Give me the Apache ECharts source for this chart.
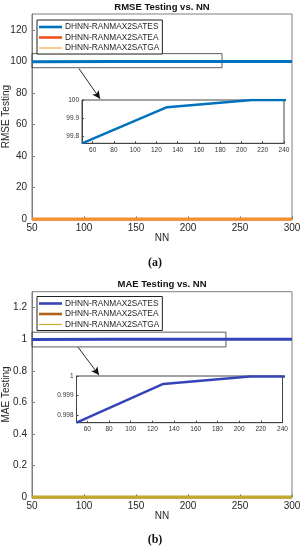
<!DOCTYPE html>
<html><head><meta charset="utf-8">
<script src="https://cdn.jsdelivr.net/npm/echarts@6/dist/echarts.min.js"></script>
<style>html,body{margin:0;padding:0;background:#fff}#c{width:303px;height:550px}</style>
</head><body><div id="c"></div>
<script>
const NN = [50, 130, 210, 300];
const rmseES = [99.76, 99.96, 100.0, 100.0];
const rmseEA = [0, 0, 0, 0];
const rmseGA = [0, 0, 0, 0];
const maeES = [0.9976, 0.99959, 0.99998, 0.99998];
const maeEA = [0, 0, 0, 0];
const maeGA = [0, 0, 0, 0];
const names = ['DHNN-RANMAX2SATES', 'DHNN-RANMAX2SATEA', 'DHNN-RANMAX2SATGA'];
const rmseYTicks = [0, 20, 40, 60, 80, 100, 120];
const maeYTicks = [0, 0.2, 0.4, 0.6, 0.8, 1, 1.2];
const insetXTicks = [60, 80, 100, 120, 140, 160, 180, 200, 220, 240];
const rmseInsetYTicks = [99.8, 99.9, 100];
const maeInsetYTicks = [0.998, 0.999, 1];
// zoom box and arrow annotations (data coords)
const rmseBox = [[27, 104.9], [232.7, 96]];
const rmseArrow = [[95.2, 95.4], [115.4, 76.3]];
const maeBox = [[30.8, 1.044], [236.5, 0.951]];
const maeArrow = [[94.2, 0.9495], [114.4, 0.7726]];

const pairs = (a, b) => a.map((v, i) => [v, b[i]]);
const font = 'Liberation Sans, Arial, sans-serif';
const axCol = '#7f7f7f';
const txtCol = '#262626';

function mainX(gi) {
  return {gridIndex: gi, type: 'value', min: 50, max: 300, interval: 50,
    name: 'NN', nameLocation: 'middle', nameGap: 14, nameMoveOverlap: false,
    nameTextStyle: {fontFamily: font, fontSize: 10, color: txtCol},
    axisLine: {lineStyle: {color: axCol}}, axisTick: {inside: true, length: 3, lineStyle: {color: axCol}},
    axisLabel: {fontFamily: font, fontSize: 10, color: txtCol, margin: 4},
    splitLine: {show: false}};
}
function mainY(gi, max, ticks, name) {
  return {gridIndex: gi, type: 'value', min: 0, max: max,
    name: name, nameLocation: 'middle', nameGap: 21, nameMoveOverlap: false,
    nameTextStyle: {fontFamily: font, fontSize: 10, color: txtCol},
    axisLine: {show: true, lineStyle: {color: axCol}},
    axisTick: {show: true, inside: true, length: 3, customValues: ticks, lineStyle: {color: axCol}},
    axisLabel: {fontFamily: font, fontSize: 10, color: txtCol, margin: 5, customValues: ticks},
    splitLine: {show: false}};
}
function insetX(gi) {
  return {gridIndex: gi, type: 'value', min: 50, max: 240,
    axisLine: {lineStyle: {color: '#444'}},
    axisTick: {inside: true, length: 2, customValues: insetXTicks, lineStyle: {color: '#444'}},
    axisLabel: {fontFamily: font, fontSize: 6.5, color: '#333', margin: 3, customValues: insetXTicks},
    splitLine: {show: false}};
}
function insetY(gi, min, max, ticks) {
  return {gridIndex: gi, type: 'value', min: min, max: max,
    axisLine: {show: true, lineStyle: {color: '#444'}},
    axisTick: {show: true, inside: true, length: 2, customValues: ticks, lineStyle: {color: '#444'}},
    axisLabel: {fontFamily: font, fontSize: 6.5, color: '#333', margin: 3, customValues: ticks},
    splitLine: {show: false}};
}
function legend(top, cols) {
  return {orient: 'vertical', left: 37, top: top, padding: [3, 3, 2, 2], itemGap: 2.5,
    itemWidth: 23, itemHeight: 8, borderColor: '#222', borderWidth: 1, backgroundColor: '#fff',
    textStyle: {fontFamily: font, fontSize: 8.3, color: txtCol, padding: [0, 0, 0, -2]},
    data: [
      {name: names[0], icon: 'path://M0,0L23,0L23,2.6L0,2.6Z', itemStyle: {color: cols[0]}},
      {name: names[1], icon: 'path://M0,0L23,0L23,2.6L0,2.6Z', itemStyle: {color: cols[1]}},
      {name: names[2], icon: 'path://M0,0L23,0L23,1.2L0,1.2Z', itemStyle: {color: cols[2]}}
    ], selectedMode: false};
}
function annot(box, arrow) {
  return {
    markArea: {silent: true, itemStyle: {color: 'rgba(0,0,0,0)', borderColor: '#333', borderWidth: 0.8},
      data: [[{coord: box[0]}, {coord: box[1]}]]},
    markLine: {silent: true, symbol: ['none', 'arrow'], symbolSize: [6, 8], label: {show: false},
      lineStyle: {color: '#111', width: 0.9, type: 'solid'},
      data: [[{coord: arrow[0]}, {coord: arrow[1]}]]}
  };
}
const rc = ['#0072BD', '#F2501E', '#F7A83C'];
const mc = ['#3545B8', '#B0621A', '#C9B02E'];
const g = (o) => Object.assign({show: true, borderWidth: 1, backgroundColor: '#fff', containLabel: false, outerBoundsMode: 'none'}, o);
const tStyle = {fontFamily: font, fontSize: 9.5, fontWeight: 'bold', color: '#111'};
const sStyle = {fontFamily: 'Liberation Serif, serif', fontSize: 12, fontWeight: 'bold', color: '#111'};

const option = {
  animation: false,
  backgroundColor: '#fff',
  title: [
    {text: 'RMSE Testing vs. NN', left: 162, textAlign: 'center', top: 2.5, padding: 0, textStyle: tStyle},
    {text: 'MAE Testing vs. NN', left: 162, textAlign: 'center', top: 279.5, padding: 0, textStyle: tStyle},
    {text: '(a)', left: 155, textAlign: 'center', top: 257, padding: 0, textStyle: sStyle},
    {text: '(b)', left: 155, textAlign: 'center', top: 533.5, padding: 0, textStyle: sStyle}
  ],
  legend: [legend(20, rc), legend(296.5, mc)],
  grid: [
    g({left: 32, right: 11, top: 14, height: 205.3, borderColor: axCol}),
    g({left: 32, right: 11, top: 291.7, height: 205.6, borderColor: axCol}),
    g({left: 82, width: 202, top: 100, height: 43.3, borderColor: '#444'}),
    g({left: 76.5, width: 206, top: 376, height: 46.7, borderColor: '#444'})
  ],
  xAxis: [mainX(0), mainX(1), insetX(2), insetX(3)],
  yAxis: [mainY(0, 130, rmseYTicks, 'RMSE Testing'), mainY(1, 1.3, maeYTicks, 'MAE Testing'),
          insetY(2, 99.76, 100, rmseInsetYTicks), insetY(3, 0.9976, 1, maeInsetYTicks)],
  series: [
    Object.assign({name: names[0], type: 'line', xAxisIndex: 0, yAxisIndex: 0, data: pairs(NN, rmseES), showSymbol: false, clip: false,
      lineStyle: {color: rc[0], width: 3}, itemStyle: {color: rc[0]}}, annot(rmseBox, rmseArrow)),
    {name: names[1], type: 'line', xAxisIndex: 0, yAxisIndex: 0, data: pairs(NN, rmseEA), showSymbol: false, lineStyle: {color: rc[1], width: 3}, itemStyle: {color: rc[1]}},
    {name: names[2], type: 'line', xAxisIndex: 0, yAxisIndex: 0, data: pairs(NN, rmseGA), showSymbol: false, lineStyle: {color: '#F3922C', width: 3}, itemStyle: {color: rc[2]}},
    Object.assign({name: names[0], type: 'line', xAxisIndex: 1, yAxisIndex: 1, data: pairs(NN, maeES), showSymbol: false, clip: false,
      lineStyle: {color: mc[0], width: 3}, itemStyle: {color: mc[0]}}, annot(maeBox, maeArrow)),
    {name: names[1], type: 'line', xAxisIndex: 1, yAxisIndex: 1, data: pairs(NN, maeEA), showSymbol: false, lineStyle: {color: mc[1], width: 3}, itemStyle: {color: mc[1]}},
    {name: names[2], type: 'line', xAxisIndex: 1, yAxisIndex: 1, data: pairs(NN, maeGA), showSymbol: false, lineStyle: {color: '#C2AA2A', width: 3}, itemStyle: {color: '#E6D24A'}},
    {name: 'inset1', type: 'line', xAxisIndex: 2, yAxisIndex: 2, data: pairs(NN, rmseES), showSymbol: false, lineStyle: {color: rc[0], width: 2.5}},
    {name: 'inset2', type: 'line', xAxisIndex: 3, yAxisIndex: 3, data: pairs(NN, maeES), showSymbol: false, lineStyle: {color: mc[0], width: 2.5}}
  ]
};
const chart = echarts.init(document.getElementById('c'), null, {renderer: 'canvas'});
chart.setOption(option);
</script>
</body></html>
